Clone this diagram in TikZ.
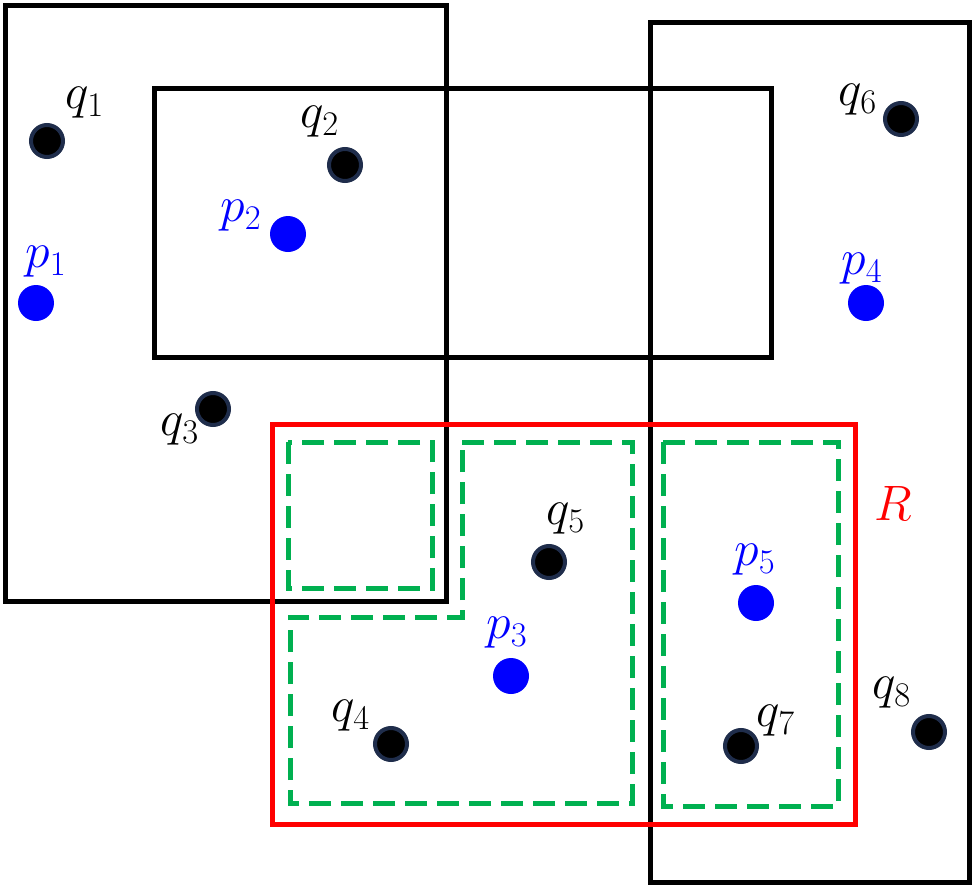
\documentclass[tikz,border=0pt]{standalone}
\usepackage{amsmath,amssymb}
\usepackage{xcolor}
\usetikzlibrary{positioning}
\definecolor{qedge}{RGB}{31,45,75}
\definecolor{pblue}{RGB}{0,0,255}
\definecolor{rred}{RGB}{255,0,0}
\definecolor{cgreen}{RGB}{0,176,80}
\tikzset{
  rangebox/.style={draw=black, line width=2.5pt},
  querybox/.style={draw=rred, line width=2.5pt},
  cellbox/.style={draw=cgreen, line width=2.5pt, dash pattern=on 11pt off 5pt},
  qdot/.style={circle, fill=black, draw=qedge, line width=2pt, minimum size=16pt, inner sep=0pt},
  pdot/.style={circle, fill=pblue, minimum size=18pt, inner sep=0pt},
  qlabel/.style={font=\fontsize{27}{29}\selectfont, inner sep=0pt},
  plabel/.style={qlabel, text=pblue}
}
\begin{document}
\begin{tikzpicture}[x=0.5pt, y=-0.5pt]
\useasboundingbox (0,0) rectangle (976,889);

% ranges
\draw[rangebox] (5,5) rectangle (446,601);
\draw[rangebox] (154,88) rectangle (771,357);
\draw[rangebox] (650,22) rectangle (969,882);

% query region and its cells
\draw[querybox] (272,424) rectangle (855,824);
\draw[cellbox] (288,442) rectangle (432,588);
\draw[cellbox] (462,442) -- (632,442) -- (632,803) -- (290,803) -- (290,617) -- (462,617) -- cycle;
\draw[cellbox] (663,442) rectangle (838,806);
\node[text=rred, font=\fontsize{34}{36}\selectfont, inner sep=0pt] (rlab) at (893,503) {$R$};

% data points
\node[qdot] (q1) at (47,141) {};
\node[qdot] (q2) at (345,165) {};
\node[qdot] (q3) at (213,409) {};
\node[qdot] (q4) at (391,744) {};
\node[qdot] (q5) at (549,562) {};
\node[qdot] (q6) at (901,119) {};
\node[qdot] (q7) at (741,746) {};
\node[qdot] (q8) at (929,732) {};

\node[pdot] (p1) at (36,303) {};
\node[pdot] (p2) at (288,234) {};
\node[pdot] (p3) at (511,676) {};
\node[pdot] (p4) at (866,303) {};
\node[pdot] (p5) at (756,603) {};

% labels
\node[qlabel] (lq1) at (85,103) {$q_1$};
\node[qlabel] (lq2) at (320,122) {$q_2$};
\node[qlabel] (lq3) at (180,430) {$q_3$};
\node[qlabel] (lq4) at (351,716) {$q_4$};
\node[qlabel] (lq5) at (566,519) {$q_5$};
\node[qlabel] (lq6) at (858,100) {$q_6$};
\node[qlabel] (lq7) at (776,721) {$q_7$};
\node[qlabel] (lq8) at (892,693) {$q_8$};

\node[plabel] (lp1) at (46,262) {$p_1$};
\node[plabel] (lp2) at (241,216) {$p_2$};
\node[plabel] (lp3) at (507,633) {$p_3$};
\node[plabel] (lp4) at (862,269) {$p_4$};
\node[plabel] (lp5) at (755,560) {$p_5$};
\end{tikzpicture}
\end{document}
